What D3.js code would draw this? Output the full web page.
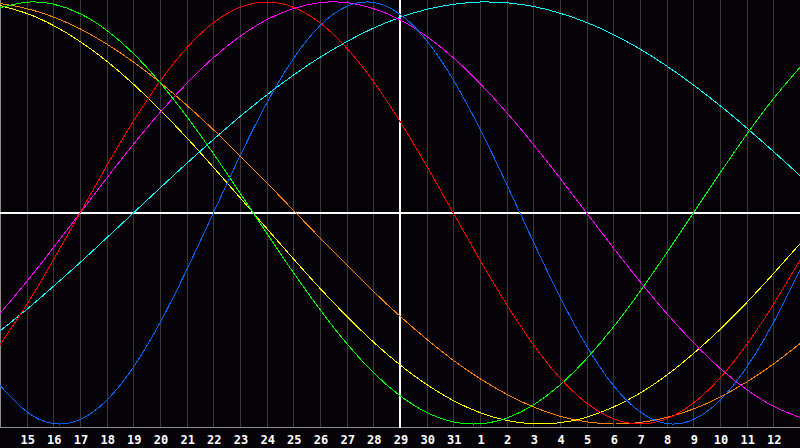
<!DOCTYPE html>
<html>
<head>
<meta charset="utf-8">
<script src="https://cdn.jsdelivr.net/npm/d3@7"></script>
<style>
html,body{margin:0;padding:0;background:#000;}
svg{display:block;}
</style>
</head>
<body>
<svg id="chart" width="800" height="448"></svg>
<script>
// Day numbers for each sample (index 0 and 30 are the chart edges, unlabeled)
const days = [14,15,16,17,18,19,20,21,22,23,24,25,26,27,28,29,30,31,1,2,3,4,5,6,7,8,9,10,11,12,13];
const todayIndex = 15; // day 29

// Cycle values per day (-1 .. 1)
const blue23 = [-0.817,-0.942,-0.998,-0.979,-0.888,-0.731,-0.520,-0.270,0,0.270,0.520,0.731,0.888,0.979,0.998,0.942,0.817,0.631,0.398,0.136,-0.136,-0.398,-0.631,-0.817,-0.942,-0.998,-0.979,-0.888,-0.731,-0.520,-0.270];
const red28 = [-0.624,-0.434,-0.223,0,0.223,0.434,0.624,0.782,0.901,0.975,1,0.975,0.901,0.782,0.624,0.434,0.223,0,-0.223,-0.434,-0.624,-0.782,-0.901,-0.975,-1,-0.975,-0.901,-0.782,-0.624,-0.434,-0.223];
const green33 = [0.972,0.999,0.990,0.945,0.866,0.756,0.618,0.458,0.282,0.095,-0.095,-0.282,-0.458,-0.618,-0.756,-0.866,-0.945,-0.990,-0.999,-0.972,-0.910,-0.815,-0.690,-0.541,-0.372,-0.189,0,0.189,0.372,0.541,0.690];
const magenta38 = [-0.476,-0.325,-0.165,0,0.165,0.325,0.476,0.614,0.736,0.837,0.916,0.969,0.997,0.997,0.969,0.916,0.837,0.736,0.614,0.476,0.325,0.165,0,-0.165,-0.325,-0.476,-0.614,-0.736,-0.837,-0.916,-0.969];
const yellow43 = [0.983,0.946,0.889,0.813,0.720,0.611,0.489,0.357,0.217,0.073,-0.073,-0.217,-0.357,-0.489,-0.611,-0.720,-0.813,-0.889,-0.946,-0.983,-0.999,-0.994,-0.968,-0.920,-0.854,-0.769,-0.667,-0.552,-0.425,-0.288,-0.146];
const orange48 = [0.993,0.969,0.929,0.873,0.801,0.716,0.619,0.511,0.395,0.271,0.144,0.013,-0.118,-0.246,-0.371,-0.489,-0.598,-0.698,-0.785,-0.859,-0.919,-0.963,-0.990,-1.000,-0.993,-0.969,-0.929,-0.873,-0.801,-0.716,-0.619];
const cyan53 = [-0.559,-0.457,-0.348,-0.235,-0.118,0,0.118,0.235,0.348,0.457,0.559,0.653,0.738,0.812,0.876,0.927,0.965,0.989,1.000,0.996,0.979,0.947,0.903,0.846,0.777,0.697,0.607,0.509,0.403,0.292,0.177];

const series = [
  {name:"cyan53", values:cyan53, color:"#00ffff"},
  {name:"orange48", values:orange48, color:"#ff8000"},
  {name:"yellow43", values:yellow43, color:"#ffff00"},
  {name:"magenta38", values:magenta38, color:"#ff00ff"},
  {name:"green33", values:green33, color:"#00ff00"},
  {name:"red28", values:red28, color:"#ff0000"},
  {name:"blue23", values:blue23, color:"#0064ff"}
];

const W = 800, H = 448;
const plotBottom = 428;
const svg = d3.select("#chart");

svg.append("rect").attr("x",0).attr("y",0).attr("width",W).attr("height",H).attr("fill","#050308");

const x = d3.scaleLinear().domain([0, days.length - 1]).range([0, W]);
const y = d3.scaleLinear().domain([-1, 1]).range([424, 2]);

// vertical day grid lines
const idx = d3.range(1, days.length - 1);
svg.append("g").selectAll("line").data(idx).join("line")
  .attr("x1", i => Math.round(x(i)) + 0.5).attr("x2", i => Math.round(x(i)) + 0.5)
  .attr("y1", 0).attr("y2", plotBottom)
  .attr("stroke", "#3a3a3a").attr("stroke-width", 1)
  .attr("shape-rendering", "crispEdges");

// frame: left and bottom
svg.append("line").attr("x1",0.5).attr("x2",0.5).attr("y1",0).attr("y2",plotBottom)
  .attr("stroke","#8a8a8a").attr("shape-rendering","crispEdges");
svg.append("line").attr("x1",0).attr("x2",W).attr("y1",plotBottom-0.5).attr("y2",plotBottom-0.5)
  .attr("stroke","#8a8a8a").attr("shape-rendering","crispEdges");

// zero line and today line
svg.append("line").attr("x1",0).attr("x2",W).attr("y1",y(0)).attr("y2",y(0))
  .attr("stroke","#ffffff").attr("stroke-width",2).attr("shape-rendering","crispEdges");
svg.append("line").attr("x1",x(todayIndex)).attr("x2",x(todayIndex)).attr("y1",0).attr("y2",plotBottom)
  .attr("stroke","#ffffff").attr("stroke-width",2).attr("shape-rendering","crispEdges");

// curves
const line = d3.line()
  .x((d, i) => x(i))
  .y(d => y(d))
  .curve(d3.curveNatural);

svg.append("g").selectAll("path").data(series).join("path")
  .attr("d", s => line(s.values))
  .attr("fill", "none")
  .attr("stroke", s => s.color)
  .attr("stroke-width", 1)
  .attr("shape-rendering", "crispEdges");

// day labels
svg.append("g").selectAll("text").data(idx).join("text")
  .attr("x", i => x(i) + 1)
  .attr("y", 444)
  .attr("text-anchor", "middle")
  .attr("fill", "#ffffff")
  .attr("font-family", "'DejaVu Sans Mono', monospace")
  .attr("font-weight", "bold")
  .attr("font-size", 12)
  .text(i => days[i]);
</script>
</body>
</html>
